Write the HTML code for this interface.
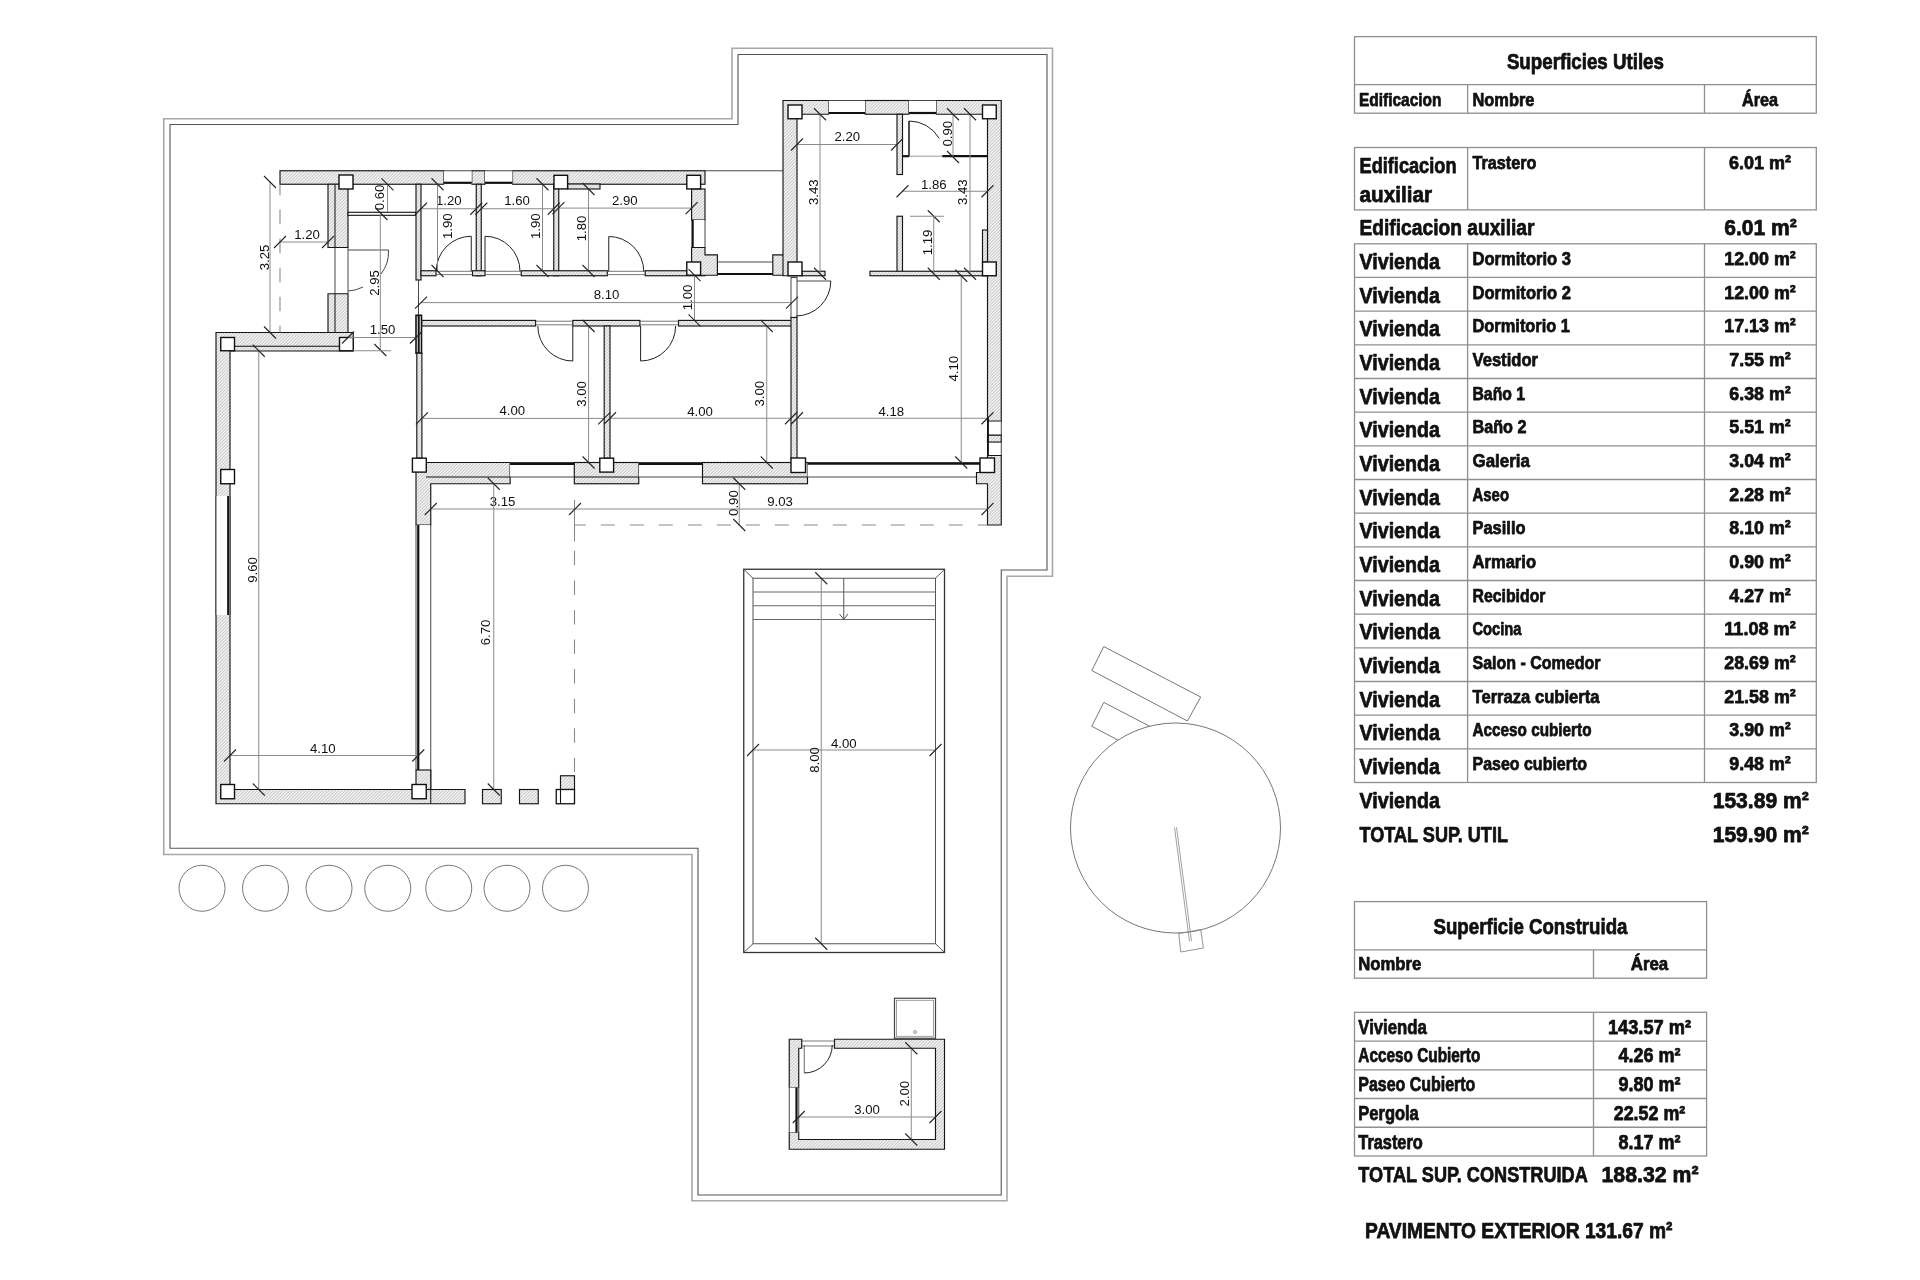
<!DOCTYPE html><html><head><meta charset="utf-8"><style>html,body{margin:0;padding:0;background:#fff;overflow:hidden}svg{display:block;will-change:transform}.d{font-family:"Liberation Sans",sans-serif;fill:#111}.t{font-family:"Liberation Sans",sans-serif;font-weight:bold;fill:#111;stroke:#111;stroke-width:0.75px;stroke-linejoin:round}</style></head><body>
<svg width="1920" height="1280" viewBox="0 0 1920 1280">
<defs><pattern id="h" patternUnits="userSpaceOnUse" width="2.3" height="2.3" patternTransform="rotate(45)"><rect width="2.3" height="2.3" fill="#f0f0f0"/><line x1="0" y1="0" x2="0" y2="2.3" stroke="#9a9a9a" stroke-width="0.75"/></pattern></defs>
<rect width="1920" height="1280" fill="#fff"/>
<path d="M163.75,118.75 H732 V48.25 H1052.5 V576.25 H1007 V1200.75 H692 V854.5 H163.75 Z" stroke="#a8a8a8" stroke-width="1.6" fill="none" />
<path d="M170,124.5 H738 V54.5 H1047 V570 H1001.25 V1195 H698 V848.25 H170 Z" stroke="#555" stroke-width="1.1" fill="none" />
<rect x="280.00" y="170.75" width="163.75" height="13.50" fill="url(#h)" stroke="#151515" stroke-width="1.15"/>
<rect x="471.75" y="170.75" width="13.25" height="13.50" fill="url(#h)" stroke="#151515" stroke-width="1.15"/>
<rect x="512.50" y="170.75" width="192.50" height="13.50" fill="url(#h)" stroke="#151515" stroke-width="1.15"/>
<rect x="443.75" y="170.75" width="28.00" height="13.55" fill="#fff" stroke="none"/>
<line x1="443.75" y1="170.75" x2="471.75" y2="170.75" stroke="#333" stroke-width="0.9" />
<line x1="443.75" y1="182.80" x2="471.75" y2="182.80" stroke="#111" stroke-width="2.2" />
<rect x="485.00" y="170.75" width="27.50" height="13.55" fill="#fff" stroke="none"/>
<line x1="485.00" y1="170.75" x2="512.50" y2="170.75" stroke="#333" stroke-width="0.9" />
<line x1="485.00" y1="182.80" x2="512.50" y2="182.80" stroke="#111" stroke-width="2.2" />
<polygon points="335.00,184.25 348.00,184.25 348.00,247.50 328.00,247.50 328.00,184.25" fill="url(#h)" stroke="#151515" stroke-width="1.15"/>
<polygon points="328.00,293.75 348.00,293.75 348.00,332.50 328.00,332.50" fill="url(#h)" stroke="#151515" stroke-width="1.15"/>
<line x1="335.00" y1="247.50" x2="335.00" y2="293.75" stroke="#333" stroke-width="0.9" />
<line x1="348.00" y1="247.50" x2="348.00" y2="293.75" stroke="#333" stroke-width="0.9" />
<path d="M348,250 H388.5 A36,36 0 0 1 381,274" stroke="#333" stroke-width="0.9" fill="none" />
<path d="M348,291 A36,36 0 0 0 363,287" stroke="#333" stroke-width="0.9" fill="none" />
<polygon points="216.00,332.50 353.25,332.50 353.25,351.00 230.00,351.00 230.00,789.50 465.00,789.50 465.00,803.75 216.00,803.75" fill="url(#h)" stroke="#151515" stroke-width="1.15"/>
<rect x="348.00" y="212.30" width="68.00" height="3.00" fill="#fff" stroke="#111" stroke-width="1.1"/>
<rect x="416.00" y="184.25" width="5.00" height="95.75" fill="url(#h)" stroke="#151515" stroke-width="1.15"/>
<line x1="418.50" y1="280.00" x2="418.50" y2="315.30" stroke="#333" stroke-width="0.9" />
<rect x="416.00" y="315.30" width="5.50" height="37.90" fill="#fff" stroke="#111" stroke-width="1.6"/>
<line x1="418.70" y1="315.30" x2="418.70" y2="353.20" stroke="#111" stroke-width="2" />
<rect x="416.80" y="353.20" width="5.10" height="105.00" fill="url(#h)" stroke="#151515" stroke-width="1.15"/>
<rect x="476.25" y="184.25" width="5.00" height="91.50" fill="url(#h)" stroke="#151515" stroke-width="1.15"/>
<rect x="553.75" y="184.25" width="5.00" height="91.50" fill="url(#h)" stroke="#151515" stroke-width="1.15"/>
<rect x="567.60" y="184.00" width="32.40" height="5.00" fill="url(#h)" stroke="#151515" stroke-width="1.15"/>
<rect x="421.00" y="270.75" width="15.00" height="5.00" fill="url(#h)" stroke="#151515" stroke-width="1.15"/>
<rect x="472.50" y="270.75" width="12.50" height="5.00" fill="url(#h)" stroke="#151515" stroke-width="1.15"/>
<rect x="521.25" y="270.75" width="86.05" height="5.00" fill="url(#h)" stroke="#151515" stroke-width="1.15"/>
<rect x="645.20" y="270.75" width="59.80" height="5.00" fill="url(#h)" stroke="#151515" stroke-width="1.15"/>
<line x1="436.00" y1="271.30" x2="472.50" y2="271.30" stroke="#555" stroke-width="0.8" />
<line x1="436.00" y1="274.60" x2="472.50" y2="274.60" stroke="#555" stroke-width="0.8" />
<line x1="485.00" y1="271.30" x2="521.25" y2="271.30" stroke="#555" stroke-width="0.8" />
<line x1="485.00" y1="274.60" x2="521.25" y2="274.60" stroke="#555" stroke-width="0.8" />
<line x1="607.30" y1="271.30" x2="645.20" y2="271.30" stroke="#555" stroke-width="0.8" />
<line x1="607.30" y1="274.60" x2="645.20" y2="274.60" stroke="#555" stroke-width="0.8" />
<line x1="471.25" y1="236.25" x2="471.25" y2="271.25" stroke="#222" stroke-width="1.0" />
<path d="M436.25,271.25 A35,35 0 0 1 471.25,236.25" stroke="#222" stroke-width="1.0" fill="none" />
<line x1="485.00" y1="236.25" x2="485.00" y2="271.25" stroke="#222" stroke-width="1.0" />
<path d="M485.00,236.25 A35,35 0 0 1 520.00,271.25" stroke="#222" stroke-width="1.0" fill="none" />
<line x1="608.75" y1="236.50" x2="608.75" y2="271.50" stroke="#222" stroke-width="1.0" />
<path d="M608.75,236.50 A35,35 0 0 1 643.75,271.50" stroke="#222" stroke-width="1.0" fill="none" />
<rect x="691.60" y="189.00" width="13.40" height="31.00" fill="url(#h)" stroke="#151515" stroke-width="1.15"/>
<rect x="692.60" y="220.00" width="12.40" height="27.50" fill="#fff" stroke="none"/>
<line x1="692.60" y1="220.00" x2="692.60" y2="247.50" stroke="#333" stroke-width="0.9" />
<line x1="692.60" y1="220.00" x2="692.60" y2="247.50" stroke="#111" stroke-width="2.2" />
<line x1="705.00" y1="220.00" x2="705.00" y2="247.50" stroke="#333" stroke-width="0.9" />
<polygon points="691.60,247.50 705.00,247.50 705.00,254.80 717.40,254.80 717.40,275.20 691.60,275.20" fill="url(#h)" stroke="#151515" stroke-width="1.15"/>
<line x1="705.00" y1="170.75" x2="783.00" y2="170.75" stroke="#333" stroke-width="0.9" />
<line x1="717.40" y1="262.00" x2="772.80" y2="262.00" stroke="#333" stroke-width="0.9" />
<line x1="717.40" y1="274.00" x2="772.80" y2="274.00" stroke="#111" stroke-width="2.2" />
<polygon points="772.80,254.80 783.80,254.80 783.80,275.20 772.80,275.20" fill="url(#h)" stroke="#151515" stroke-width="1.15"/>
<rect x="339.00" y="175.00" width="14.00" height="14.00" fill="#fff" stroke="#111" stroke-width="1.4"/>
<rect x="554.00" y="175.30" width="13.60" height="13.60" fill="#fff" stroke="#111" stroke-width="1.4"/>
<rect x="686.80" y="175.30" width="13.80" height="13.60" fill="#fff" stroke="#111" stroke-width="1.4"/>
<rect x="686.80" y="262.00" width="13.80" height="13.20" fill="#fff" stroke="#111" stroke-width="1.4"/>
<rect x="220.75" y="337.50" width="13.75" height="13.25" fill="#fff" stroke="#111" stroke-width="1.4"/>
<rect x="339.50" y="337.50" width="13.75" height="13.25" fill="#fff" stroke="#111" stroke-width="1.4"/>
<polygon points="783.00,100.50 828.75,100.50 828.75,114.25 797.00,114.25 797.00,275.75 783.00,275.75" fill="url(#h)" stroke="#151515" stroke-width="1.15"/>
<rect x="865.00" y="100.50" width="43.75" height="13.75" fill="url(#h)" stroke="#151515" stroke-width="1.15"/>
<polygon points="936.25,100.50 1001.25,100.50 1001.25,421.25 987.50,421.25 987.50,114.25 936.25,114.25" fill="url(#h)" stroke="#151515" stroke-width="1.15"/>
<rect x="828.75" y="100.50" width="36.25" height="14.00" fill="#fff" stroke="none"/>
<line x1="828.75" y1="100.50" x2="865.00" y2="100.50" stroke="#333" stroke-width="0.9" />
<line x1="828.75" y1="113.00" x2="865.00" y2="113.00" stroke="#111" stroke-width="2.2" />
<rect x="908.75" y="100.50" width="27.50" height="14.00" fill="#fff" stroke="none"/>
<line x1="908.75" y1="100.50" x2="936.25" y2="100.50" stroke="#333" stroke-width="0.9" />
<line x1="908.75" y1="113.00" x2="936.25" y2="113.00" stroke="#111" stroke-width="2.2" />
<rect x="987.50" y="421.10" width="13.75" height="14.10" fill="#fff" stroke="#333" stroke-width="0.9"/>
<rect x="987.50" y="435.20" width="13.75" height="7.00" fill="url(#h)" stroke="#151515" stroke-width="1.15"/>
<rect x="987.50" y="442.20" width="13.75" height="13.30" fill="#fff" stroke="#333" stroke-width="0.9"/>
<line x1="988.00" y1="418.00" x2="988.00" y2="456.00" stroke="#111" stroke-width="1.8" />
<rect x="897.00" y="114.25" width="5.50" height="60.25" fill="url(#h)" stroke="#151515" stroke-width="1.15"/>
<rect x="897.00" y="216.25" width="5.50" height="57.50" fill="url(#h)" stroke="#151515" stroke-width="1.15"/>
<line x1="902.50" y1="156.20" x2="909.00" y2="156.20" stroke="#111" stroke-width="2.2" />
<line x1="909.00" y1="156.20" x2="942.30" y2="156.20" stroke="#999" stroke-width="1.0" />
<line x1="942.30" y1="156.20" x2="987.50" y2="156.20" stroke="#111" stroke-width="2.2" />
<line x1="909.00" y1="121.00" x2="909.00" y2="156.20" stroke="#222" stroke-width="1.6" />
<path d="M909.00,121.00 A35,35 0 0 1 939.31,138.50" stroke="#222" stroke-width="1.0" fill="none" />
<rect x="802.00" y="271.25" width="23.00" height="4.50" fill="url(#h)" stroke="#151515" stroke-width="1.15"/>
<rect x="870.00" y="271.25" width="117.50" height="4.50" fill="url(#h)" stroke="#151515" stroke-width="1.15"/>
<rect x="982.50" y="230.00" width="5.00" height="32.00" fill="url(#h)" stroke="#151515" stroke-width="1.15"/>
<rect x="788.00" y="105.00" width="14.00" height="13.75" fill="#fff" stroke="#111" stroke-width="1.4"/>
<rect x="982.50" y="105.00" width="13.75" height="13.75" fill="#fff" stroke="#111" stroke-width="1.4"/>
<rect x="788.00" y="262.00" width="14.00" height="13.75" fill="#fff" stroke="#111" stroke-width="1.4"/>
<rect x="982.50" y="262.00" width="13.75" height="13.75" fill="#fff" stroke="#111" stroke-width="1.4"/>
<rect x="791.00" y="277.50" width="6.00" height="40.00" fill="#fff" stroke="#333" stroke-width="0.9"/>
<path d="M830.80,281.00 A35,35 0 0 1 795.80,316.00" stroke="#222" stroke-width="1.0" fill="none" />
<line x1="797.00" y1="281.00" x2="831.00" y2="281.00" stroke="#333" stroke-width="0.9" />
<rect x="421.90" y="320.40" width="113.70" height="5.60" fill="url(#h)" stroke="#151515" stroke-width="1.15"/>
<rect x="572.80" y="320.40" width="67.10" height="5.60" fill="url(#h)" stroke="#151515" stroke-width="1.15"/>
<rect x="678.50" y="320.40" width="113.50" height="5.60" fill="url(#h)" stroke="#151515" stroke-width="1.15"/>
<line x1="535.60" y1="321.20" x2="572.80" y2="321.20" stroke="#555" stroke-width="0.8" />
<line x1="535.60" y1="324.80" x2="572.80" y2="324.80" stroke="#555" stroke-width="0.8" />
<line x1="639.90" y1="321.20" x2="678.50" y2="321.20" stroke="#555" stroke-width="0.8" />
<line x1="639.90" y1="324.80" x2="678.50" y2="324.80" stroke="#555" stroke-width="0.8" />
<line x1="572.80" y1="326.00" x2="572.80" y2="361.00" stroke="#222" stroke-width="1.0" />
<path d="M572.80,361.00 A35,35 0 0 1 537.80,326.00" stroke="#222" stroke-width="1.0" fill="none" />
<line x1="640.60" y1="326.00" x2="640.60" y2="361.00" stroke="#222" stroke-width="1.0" />
<path d="M675.60,326.00 A35,35 0 0 1 640.60,361.00" stroke="#222" stroke-width="1.0" fill="none" />
<rect x="604.20" y="326.00" width="5.80" height="132.20" fill="url(#h)" stroke="#151515" stroke-width="1.15"/>
<rect x="791.00" y="317.50" width="6.00" height="141.25" fill="url(#h)" stroke="#151515" stroke-width="1.15"/>
<polygon points="416.00,462.50 510.10,462.50 510.10,483.75 430.75,483.75 430.75,525.00 416.00,525.00" fill="url(#h)" stroke="#151515" stroke-width="1.15"/>
<rect x="510.10" y="462.50" width="64.20" height="14.50" fill="#fff" stroke="none"/>
<line x1="510.10" y1="462.50" x2="574.30" y2="462.50" stroke="#333" stroke-width="0.9" />
<line x1="510.10" y1="463.90" x2="574.30" y2="463.90" stroke="#111" stroke-width="2.2" />
<line x1="510.10" y1="477.00" x2="574.30" y2="477.00" stroke="#333" stroke-width="0.9" />
<rect x="574.30" y="462.50" width="64.45" height="21.25" fill="url(#h)" stroke="#151515" stroke-width="1.15"/>
<line x1="574.30" y1="477.00" x2="638.75" y2="477.00" stroke="#111" stroke-width="1" />
<rect x="638.75" y="462.50" width="63.75" height="14.50" fill="#fff" stroke="none"/>
<line x1="638.75" y1="462.50" x2="702.50" y2="462.50" stroke="#333" stroke-width="0.9" />
<line x1="638.75" y1="463.90" x2="702.50" y2="463.90" stroke="#111" stroke-width="2.2" />
<line x1="638.75" y1="477.00" x2="702.50" y2="477.00" stroke="#333" stroke-width="0.9" />
<rect x="702.50" y="462.50" width="105.00" height="21.25" fill="url(#h)" stroke="#151515" stroke-width="1.15"/>
<line x1="702.50" y1="477.00" x2="807.50" y2="477.00" stroke="#111" stroke-width="1" />
<rect x="807.50" y="462.50" width="172.50" height="14.50" fill="#fff" stroke="none"/>
<line x1="807.50" y1="462.50" x2="980.00" y2="462.50" stroke="#333" stroke-width="0.9" />
<line x1="807.50" y1="463.75" x2="980.00" y2="463.75" stroke="#111" stroke-width="2.2" />
<line x1="807.50" y1="477.00" x2="980.00" y2="477.00" stroke="#333" stroke-width="0.9" />
<polygon points="987.50,455.50 1001.25,455.50 1001.25,525.00 987.50,525.00 987.50,483.75 976.50,483.75 976.50,472.50 980.00,472.50 980.00,462.50 987.50,462.50" fill="url(#h)" stroke="#151515" stroke-width="1.15"/>
<line x1="426.00" y1="477.00" x2="510.10" y2="477.00" stroke="#111" stroke-width="1" />
<rect x="412.40" y="458.20" width="13.90" height="13.90" fill="#fff" stroke="#111" stroke-width="1.4"/>
<rect x="599.80" y="458.20" width="13.80" height="13.90" fill="#fff" stroke="#111" stroke-width="1.4"/>
<rect x="791.00" y="458.00" width="14.50" height="14.50" fill="#fff" stroke="#111" stroke-width="1.4"/>
<rect x="980.00" y="458.00" width="14.50" height="14.50" fill="#fff" stroke="#111" stroke-width="1.4"/>
<rect x="216.00" y="496.00" width="14.00" height="119.00" fill="#fff" stroke="none"/>
<line x1="216.00" y1="496.00" x2="216.00" y2="615.00" stroke="#333" stroke-width="0.9" />
<line x1="228.25" y1="496.00" x2="228.25" y2="615.00" stroke="#111" stroke-width="2.2" />
<line x1="230.00" y1="496.00" x2="230.00" y2="615.00" stroke="#333" stroke-width="0.9" />
<rect x="416.00" y="525.00" width="14.75" height="245.00" fill="#fff" stroke="none"/>
<line x1="416.00" y1="525.00" x2="416.00" y2="770.00" stroke="#333" stroke-width="0.9" />
<line x1="418.25" y1="525.00" x2="418.25" y2="770.00" stroke="#111" stroke-width="2.2" />
<line x1="430.75" y1="525.00" x2="430.75" y2="770.00" stroke="#333" stroke-width="0.9" />
<line x1="430.75" y1="770.00" x2="430.75" y2="803.75" stroke="#111" stroke-width="1" />
<rect x="416.00" y="770.00" width="14.75" height="19.50" fill="url(#h)" stroke="#151515" stroke-width="1.15"/>
<rect x="220.75" y="469.50" width="13.75" height="14.25" fill="#fff" stroke="#111" stroke-width="1.4"/>
<rect x="220.75" y="784.50" width="13.75" height="14.25" fill="#fff" stroke="#111" stroke-width="1.4"/>
<rect x="412.00" y="784.50" width="14.25" height="14.25" fill="#fff" stroke="#111" stroke-width="1.4"/>
<rect x="482.50" y="789.50" width="18.75" height="14.25" fill="url(#h)" stroke="#151515" stroke-width="1.15"/>
<rect x="519.50" y="789.50" width="18.75" height="14.25" fill="url(#h)" stroke="#151515" stroke-width="1.15"/>
<rect x="560.50" y="775.75" width="14.00" height="13.75" fill="url(#h)" stroke="#151515" stroke-width="1.15"/>
<rect x="556.25" y="789.50" width="18.25" height="14.25" fill="#fff" stroke="#111" stroke-width="1.3"/>
<line x1="560.50" y1="789.50" x2="560.50" y2="803.75" stroke="#111" stroke-width="1.1" />
<line x1="280.00" y1="184.60" x2="280.00" y2="332.50" stroke="#8a8a8a" stroke-width="1.1" stroke-dasharray="14.5,14.5" stroke-dashoffset="3.9"/>
<line x1="575.00" y1="525.00" x2="987.50" y2="525.00" stroke="#8a8a8a" stroke-width="1.1" stroke-dasharray="14,15" stroke-dashoffset="3.2"/>
<line x1="574.50" y1="525.00" x2="574.50" y2="775.75" stroke="#8a8a8a" stroke-width="1.1" stroke-dasharray="14.5,15.06" stroke-dashoffset="3.7"/>
<line x1="574.50" y1="500.00" x2="574.50" y2="541.50" stroke="#8a8a8a" stroke-width="1" />
<rect x="743.75" y="569.25" width="200.75" height="383.25" fill="none" stroke="#333" stroke-width="1.3"/>
<rect x="753.00" y="578.25" width="182.50" height="365.50" fill="none" stroke="#555" stroke-width="1"/>
<line x1="743.75" y1="569.25" x2="753.00" y2="578.25" stroke="#555" stroke-width="1" />
<line x1="944.50" y1="569.25" x2="935.50" y2="578.25" stroke="#555" stroke-width="1" />
<line x1="743.75" y1="952.50" x2="753.00" y2="943.75" stroke="#555" stroke-width="1" />
<line x1="944.50" y1="952.50" x2="935.50" y2="943.75" stroke="#555" stroke-width="1" />
<line x1="753.00" y1="592.00" x2="935.50" y2="592.00" stroke="#666" stroke-width="1" />
<line x1="753.00" y1="605.75" x2="935.50" y2="605.75" stroke="#666" stroke-width="1" />
<line x1="753.00" y1="619.50" x2="935.50" y2="619.50" stroke="#666" stroke-width="1" />
<line x1="843.75" y1="578.25" x2="843.75" y2="619.00" stroke="#555" stroke-width="1" />
<path d="M839.5,614 L843.75,619.5 L848,614" stroke="#555" stroke-width="1" fill="none" />
<polygon points="789.25,1039.25 801.75,1039.25 801.75,1048.25 798.75,1048.25 798.75,1087.50 789.25,1087.50" fill="url(#h)" stroke="#151515" stroke-width="1.15"/>
<polygon points="834.50,1039.25 944.50,1039.25 944.50,1149.25 789.25,1149.25 789.25,1132.50 798.75,1132.50 798.75,1139.50 935.50,1139.50 935.50,1048.25 834.50,1048.25" fill="url(#h)" stroke="#151515" stroke-width="1.15"/>
<rect x="789.25" y="1087.50" width="9.50" height="45.00" fill="#fff" stroke="none"/>
<line x1="789.25" y1="1087.50" x2="789.25" y2="1132.50" stroke="#333" stroke-width="0.9" />
<line x1="796.50" y1="1087.50" x2="796.50" y2="1132.50" stroke="#111" stroke-width="2.2" />
<line x1="798.75" y1="1087.50" x2="798.75" y2="1132.50" stroke="#333" stroke-width="0.9" />
<line x1="801.75" y1="1041.00" x2="834.50" y2="1041.00" stroke="#555" stroke-width="0.8" />
<line x1="801.75" y1="1046.00" x2="834.50" y2="1046.00" stroke="#555" stroke-width="0.8" />
<line x1="804.25" y1="1045.00" x2="804.25" y2="1073.00" stroke="#555" stroke-width="0.9" />
<path d="M832.25,1045.00 A28,28 0 0 1 804.25,1073.00" stroke="#222" stroke-width="1.0" fill="none" />
<rect x="894.50" y="998.25" width="41.00" height="40.00" fill="none" stroke="#444" stroke-width="1.2"/>
<rect x="896.50" y="1000.25" width="37.00" height="36.00" fill="none" stroke="#777" stroke-width="0.7"/>
<circle cx="915" cy="1032" r="1.5" fill="none" stroke="#666" stroke-width="0.7"/>
<circle cx="202" cy="888.25" r="23" fill="none" stroke="#777" stroke-width="1"/>
<circle cx="265.5" cy="888.25" r="23" fill="none" stroke="#777" stroke-width="1"/>
<circle cx="329" cy="888.25" r="23" fill="none" stroke="#777" stroke-width="1"/>
<circle cx="387.75" cy="888.25" r="23" fill="none" stroke="#777" stroke-width="1"/>
<circle cx="448.75" cy="888.25" r="23" fill="none" stroke="#777" stroke-width="1"/>
<circle cx="507" cy="888.25" r="23" fill="none" stroke="#777" stroke-width="1"/>
<circle cx="565.5" cy="888.25" r="23" fill="none" stroke="#777" stroke-width="1"/>
<defs><clipPath id="oc"><path d="M1000,600 H1320 V960 H1000 Z M1175.5,828 m-105,0 a105,105 0 1,0 210,0 a105,105 0 1,0 -210,0" clip-rule="evenodd"/></clipPath></defs>
<polygon points="1103.80,646.60 1200.70,697.00 1187.40,721.00 1091.80,670.50" fill="none" stroke="#777" stroke-width="1"/>
<g clip-path="url(#oc)">
<polygon points="1103.80,702.40 1200.70,752.80 1187.40,776.70 1091.80,726.30" fill="none" stroke="#777" stroke-width="1"/>
</g>
<circle cx="1175.5" cy="828" r="105" fill="none" stroke="#777" stroke-width="1"/>
<path d="M1174.5,827.5 L1189.5,941.5 M1176.5,827.2 L1191.5,941" stroke="#888" stroke-width="0.8" fill="none" />
<polygon points="1178.70,933.50 1200.70,929.50 1203.40,948.00 1180.80,952.00" fill="none" stroke="#888" stroke-width="0.9"/>
<line x1="270.00" y1="182.00" x2="270.00" y2="332.50" stroke="#8a8a8a" stroke-width="1" />
<line x1="264.00" y1="176.00" x2="276.00" y2="188.00" stroke="#222" stroke-width="1.1" />
<line x1="264.00" y1="326.50" x2="276.00" y2="338.50" stroke="#222" stroke-width="1.1" />
<text transform="translate(263.75,257.50) rotate(-90)" x="0" y="4.75" class="d" text-anchor="middle" font-size="13.2">3.25</text>
<line x1="280.00" y1="242.00" x2="328.00" y2="242.00" stroke="#8a8a8a" stroke-width="1" />
<line x1="274.00" y1="248.00" x2="286.00" y2="236.00" stroke="#222" stroke-width="1.1" />
<line x1="322.00" y1="248.00" x2="334.00" y2="236.00" stroke="#222" stroke-width="1.1" />
<text x="307.00" y="238.75" class="d" text-anchor="middle" font-size="13.2">1.20</text>
<line x1="387.50" y1="184.30" x2="387.50" y2="212.00" stroke="#8a8a8a" stroke-width="1" />
<line x1="381.50" y1="178.30" x2="393.50" y2="190.30" stroke="#222" stroke-width="1.1" />
<text transform="translate(379.50,197.50) rotate(-90)" x="0" y="4.75" class="d" text-anchor="middle" font-size="13.2">0.60</text>
<line x1="380.30" y1="214.00" x2="380.30" y2="350.75" stroke="#8a8a8a" stroke-width="1" />
<line x1="375.50" y1="208.00" x2="387.50" y2="220.00" stroke="#222" stroke-width="1.1" />
<line x1="374.30" y1="344.00" x2="386.30" y2="356.00" stroke="#222" stroke-width="1.1" />
<text transform="translate(373.75,283.00) rotate(-90)" x="0" y="4.75" class="d" text-anchor="middle" font-size="13.2">2.95</text>
<line x1="348.00" y1="337.50" x2="416.00" y2="337.50" stroke="#8a8a8a" stroke-width="1" />
<line x1="342.00" y1="343.50" x2="354.00" y2="331.50" stroke="#222" stroke-width="1.1" />
<line x1="410.00" y1="343.50" x2="422.00" y2="331.50" stroke="#222" stroke-width="1.1" />
<text x="382.50" y="334.25" class="d" text-anchor="middle" font-size="13.2">1.50</text>
<line x1="353.00" y1="350.75" x2="391.00" y2="350.75" stroke="#8a8a8a" stroke-width="1" />
<line x1="421.00" y1="208.75" x2="476.25" y2="208.75" stroke="#8a8a8a" stroke-width="1" />
<line x1="415.00" y1="214.75" x2="427.00" y2="202.75" stroke="#222" stroke-width="1.1" />
<line x1="470.25" y1="214.75" x2="482.25" y2="202.75" stroke="#222" stroke-width="1.1" />
<text x="448.75" y="205.00" class="d" text-anchor="middle" font-size="13.2">1.20</text>
<line x1="437.50" y1="184.25" x2="437.50" y2="271.00" stroke="#8a8a8a" stroke-width="1" />
<line x1="431.50" y1="178.25" x2="443.50" y2="190.25" stroke="#222" stroke-width="1.1" />
<line x1="431.50" y1="265.00" x2="443.50" y2="277.00" stroke="#222" stroke-width="1.1" />
<text transform="translate(447.00,226.25) rotate(-90)" x="0" y="4.75" class="d" text-anchor="middle" font-size="13.2">1.90</text>
<line x1="481.25" y1="208.75" x2="553.75" y2="208.75" stroke="#8a8a8a" stroke-width="1" />
<line x1="475.25" y1="214.75" x2="487.25" y2="202.75" stroke="#222" stroke-width="1.1" />
<line x1="547.75" y1="214.75" x2="559.75" y2="202.75" stroke="#222" stroke-width="1.1" />
<text x="517.00" y="205.00" class="d" text-anchor="middle" font-size="13.2">1.60</text>
<line x1="542.50" y1="184.25" x2="542.50" y2="271.00" stroke="#8a8a8a" stroke-width="1" />
<line x1="536.50" y1="178.25" x2="548.50" y2="190.25" stroke="#222" stroke-width="1.1" />
<line x1="536.50" y1="265.00" x2="548.50" y2="277.00" stroke="#222" stroke-width="1.1" />
<text transform="translate(535.00,226.25) rotate(-90)" x="0" y="4.75" class="d" text-anchor="middle" font-size="13.2">1.90</text>
<line x1="588.50" y1="189.00" x2="588.50" y2="271.00" stroke="#8a8a8a" stroke-width="1" />
<line x1="582.50" y1="183.00" x2="594.50" y2="195.00" stroke="#222" stroke-width="1.1" />
<line x1="582.50" y1="265.00" x2="594.50" y2="277.00" stroke="#222" stroke-width="1.1" />
<text transform="translate(581.40,228.50) rotate(-90)" x="0" y="4.75" class="d" text-anchor="middle" font-size="13.2">1.80</text>
<line x1="558.40" y1="208.10" x2="691.60" y2="208.10" stroke="#8a8a8a" stroke-width="1" />
<line x1="552.40" y1="214.10" x2="564.40" y2="202.10" stroke="#222" stroke-width="1.1" />
<line x1="685.60" y1="214.10" x2="697.60" y2="202.10" stroke="#222" stroke-width="1.1" />
<text x="624.80" y="204.90" class="d" text-anchor="middle" font-size="13.2">2.90</text>
<line x1="421.00" y1="302.60" x2="792.00" y2="302.60" stroke="#8a8a8a" stroke-width="1" />
<line x1="415.00" y1="308.60" x2="427.00" y2="296.60" stroke="#222" stroke-width="1.1" />
<line x1="786.00" y1="308.60" x2="798.00" y2="296.60" stroke="#222" stroke-width="1.1" />
<text x="606.60" y="299.30" class="d" text-anchor="middle" font-size="13.2">8.10</text>
<line x1="694.50" y1="275.20" x2="694.50" y2="320.40" stroke="#8a8a8a" stroke-width="1" />
<line x1="688.50" y1="269.20" x2="700.50" y2="281.20" stroke="#222" stroke-width="1.1" />
<line x1="688.50" y1="314.40" x2="700.50" y2="326.40" stroke="#222" stroke-width="1.1" />
<text transform="translate(686.80,297.50) rotate(-90)" x="0" y="4.75" class="d" text-anchor="middle" font-size="13.2">1.00</text>
<line x1="797.00" y1="144.50" x2="897.00" y2="144.50" stroke="#8a8a8a" stroke-width="1" />
<line x1="791.00" y1="150.50" x2="803.00" y2="138.50" stroke="#222" stroke-width="1.1" />
<line x1="891.00" y1="150.50" x2="903.00" y2="138.50" stroke="#222" stroke-width="1.1" />
<text x="847.25" y="141.25" class="d" text-anchor="middle" font-size="13.2">2.20</text>
<line x1="820.00" y1="114.25" x2="820.00" y2="273.75" stroke="#8a8a8a" stroke-width="1" />
<line x1="814.00" y1="108.25" x2="826.00" y2="120.25" stroke="#222" stroke-width="1.1" />
<line x1="814.00" y1="267.75" x2="826.00" y2="279.75" stroke="#222" stroke-width="1.1" />
<text transform="translate(813.00,192.25) rotate(-90)" x="0" y="4.75" class="d" text-anchor="middle" font-size="13.2">3.43</text>
<line x1="953.00" y1="114.25" x2="953.00" y2="157.00" stroke="#8a8a8a" stroke-width="1" />
<line x1="947.00" y1="108.25" x2="959.00" y2="120.25" stroke="#222" stroke-width="1.1" />
<line x1="947.00" y1="151.00" x2="959.00" y2="163.00" stroke="#222" stroke-width="1.1" />
<text transform="translate(947.50,133.75) rotate(-90)" x="0" y="4.75" class="d" text-anchor="middle" font-size="13.2">0.90</text>
<line x1="902.50" y1="191.25" x2="987.50" y2="191.25" stroke="#8a8a8a" stroke-width="1" />
<line x1="896.50" y1="197.25" x2="908.50" y2="185.25" stroke="#222" stroke-width="1.1" />
<line x1="981.50" y1="197.25" x2="993.50" y2="185.25" stroke="#222" stroke-width="1.1" />
<text x="933.75" y="188.75" class="d" text-anchor="middle" font-size="13.2">1.86</text>
<line x1="970.00" y1="114.25" x2="970.00" y2="273.75" stroke="#8a8a8a" stroke-width="1" />
<line x1="964.00" y1="108.25" x2="976.00" y2="120.25" stroke="#222" stroke-width="1.1" />
<line x1="964.00" y1="267.75" x2="976.00" y2="279.75" stroke="#222" stroke-width="1.1" />
<text transform="translate(962.50,192.25) rotate(-90)" x="0" y="4.75" class="d" text-anchor="middle" font-size="13.2">3.43</text>
<line x1="933.75" y1="216.25" x2="933.75" y2="273.75" stroke="#8a8a8a" stroke-width="1" />
<line x1="927.75" y1="210.25" x2="939.75" y2="222.25" stroke="#222" stroke-width="1.1" />
<line x1="927.75" y1="267.75" x2="939.75" y2="279.75" stroke="#222" stroke-width="1.1" />
<line x1="910.00" y1="216.25" x2="944.00" y2="216.25" stroke="#8a8a8a" stroke-width="1" />
<text transform="translate(927.50,242.50) rotate(-90)" x="0" y="4.75" class="d" text-anchor="middle" font-size="13.2">1.19</text>
<line x1="421.90" y1="418.40" x2="604.20" y2="418.40" stroke="#8a8a8a" stroke-width="1" />
<line x1="415.90" y1="424.40" x2="427.90" y2="412.40" stroke="#222" stroke-width="1.1" />
<line x1="598.20" y1="424.40" x2="610.20" y2="412.40" stroke="#222" stroke-width="1.1" />
<text x="512.30" y="415.40" class="d" text-anchor="middle" font-size="13.2">4.00</text>
<line x1="588.60" y1="326.00" x2="588.60" y2="462.50" stroke="#8a8a8a" stroke-width="1" />
<line x1="582.60" y1="320.00" x2="594.60" y2="332.00" stroke="#222" stroke-width="1.1" />
<line x1="582.60" y1="456.50" x2="594.60" y2="468.50" stroke="#222" stroke-width="1.1" />
<text transform="translate(580.80,394.00) rotate(-90)" x="0" y="4.75" class="d" text-anchor="middle" font-size="13.2">3.00</text>
<line x1="610.00" y1="418.25" x2="791.00" y2="418.25" stroke="#8a8a8a" stroke-width="1" />
<line x1="604.00" y1="424.25" x2="616.00" y2="412.25" stroke="#222" stroke-width="1.1" />
<line x1="785.00" y1="424.25" x2="797.00" y2="412.25" stroke="#222" stroke-width="1.1" />
<text x="700.00" y="415.50" class="d" text-anchor="middle" font-size="13.2">4.00</text>
<line x1="766.75" y1="326.00" x2="766.75" y2="462.50" stroke="#8a8a8a" stroke-width="1" />
<line x1="760.75" y1="320.00" x2="772.75" y2="332.00" stroke="#222" stroke-width="1.1" />
<line x1="760.75" y1="456.50" x2="772.75" y2="468.50" stroke="#222" stroke-width="1.1" />
<text transform="translate(759.40,393.75) rotate(-90)" x="0" y="4.75" class="d" text-anchor="middle" font-size="13.2">3.00</text>
<line x1="797.00" y1="418.25" x2="987.50" y2="418.25" stroke="#8a8a8a" stroke-width="1" />
<line x1="791.00" y1="424.25" x2="803.00" y2="412.25" stroke="#222" stroke-width="1.1" />
<line x1="981.50" y1="424.25" x2="993.50" y2="412.25" stroke="#222" stroke-width="1.1" />
<text x="891.25" y="415.50" class="d" text-anchor="middle" font-size="13.2">4.18</text>
<line x1="961.25" y1="275.75" x2="961.25" y2="462.50" stroke="#8a8a8a" stroke-width="1" />
<line x1="955.25" y1="269.75" x2="967.25" y2="281.75" stroke="#222" stroke-width="1.1" />
<line x1="955.25" y1="456.50" x2="967.25" y2="468.50" stroke="#222" stroke-width="1.1" />
<text transform="translate(953.10,368.75) rotate(-90)" x="0" y="4.75" class="d" text-anchor="middle" font-size="13.2">4.10</text>
<line x1="430.75" y1="509.00" x2="987.50" y2="509.00" stroke="#8a8a8a" stroke-width="1" />
<line x1="424.75" y1="515.00" x2="436.75" y2="503.00" stroke="#222" stroke-width="1.1" />
<line x1="981.50" y1="515.00" x2="993.50" y2="503.00" stroke="#222" stroke-width="1.1" />
<line x1="569.00" y1="515.00" x2="581.00" y2="503.00" stroke="#222" stroke-width="1.1" />
<text x="502.50" y="506.25" class="d" text-anchor="middle" font-size="13.2">3.15</text>
<text x="780.00" y="506.25" class="d" text-anchor="middle" font-size="13.2">9.03</text>
<line x1="739.25" y1="483.75" x2="739.25" y2="525.00" stroke="#8a8a8a" stroke-width="1" />
<line x1="733.25" y1="477.75" x2="745.25" y2="489.75" stroke="#222" stroke-width="1.1" />
<line x1="733.25" y1="519.00" x2="745.25" y2="531.00" stroke="#222" stroke-width="1.1" />
<text transform="translate(733.10,503.10) rotate(-90)" x="0" y="4.75" class="d" text-anchor="middle" font-size="13.2">0.90</text>
<line x1="258.75" y1="350.75" x2="258.75" y2="789.50" stroke="#8a8a8a" stroke-width="1" />
<line x1="252.75" y1="344.75" x2="264.75" y2="356.75" stroke="#222" stroke-width="1.1" />
<line x1="252.75" y1="783.50" x2="264.75" y2="795.50" stroke="#222" stroke-width="1.1" />
<text transform="translate(251.90,570.00) rotate(-90)" x="0" y="4.75" class="d" text-anchor="middle" font-size="13.2">9.60</text>
<line x1="493.75" y1="483.75" x2="493.75" y2="789.50" stroke="#8a8a8a" stroke-width="1" />
<line x1="487.75" y1="477.75" x2="499.75" y2="489.75" stroke="#222" stroke-width="1.1" />
<line x1="487.75" y1="783.50" x2="499.75" y2="795.50" stroke="#222" stroke-width="1.1" />
<text transform="translate(485.50,632.50) rotate(-90)" x="0" y="4.75" class="d" text-anchor="middle" font-size="13.2">6.70</text>
<line x1="230.00" y1="755.50" x2="418.25" y2="755.50" stroke="#8a8a8a" stroke-width="1" />
<line x1="224.00" y1="761.50" x2="236.00" y2="749.50" stroke="#222" stroke-width="1.1" />
<line x1="412.25" y1="761.50" x2="424.25" y2="749.50" stroke="#222" stroke-width="1.1" />
<text x="322.75" y="753.00" class="d" text-anchor="middle" font-size="13.2">4.10</text>
<line x1="753.00" y1="750.00" x2="935.50" y2="750.00" stroke="#8a8a8a" stroke-width="1" />
<line x1="747.00" y1="756.00" x2="759.00" y2="744.00" stroke="#222" stroke-width="1.1" />
<line x1="929.50" y1="756.00" x2="941.50" y2="744.00" stroke="#222" stroke-width="1.1" />
<text x="843.75" y="747.50" class="d" text-anchor="middle" font-size="13.2">4.00</text>
<line x1="821.25" y1="578.25" x2="821.25" y2="943.75" stroke="#8a8a8a" stroke-width="1" />
<line x1="815.25" y1="572.25" x2="827.25" y2="584.25" stroke="#222" stroke-width="1.1" />
<line x1="815.25" y1="937.75" x2="827.25" y2="949.75" stroke="#222" stroke-width="1.1" />
<text transform="translate(813.75,760.00) rotate(-90)" x="0" y="4.75" class="d" text-anchor="middle" font-size="13.2">8.00</text>
<line x1="798.75" y1="1117.00" x2="935.50" y2="1117.00" stroke="#8a8a8a" stroke-width="1" />
<line x1="792.75" y1="1123.00" x2="804.75" y2="1111.00" stroke="#222" stroke-width="1.1" />
<line x1="929.50" y1="1123.00" x2="941.50" y2="1111.00" stroke="#222" stroke-width="1.1" />
<text x="867.00" y="1113.75" class="d" text-anchor="middle" font-size="13.2">3.00</text>
<line x1="911.25" y1="1048.25" x2="911.25" y2="1139.50" stroke="#8a8a8a" stroke-width="1" />
<line x1="905.25" y1="1042.25" x2="917.25" y2="1054.25" stroke="#222" stroke-width="1.1" />
<line x1="905.25" y1="1133.50" x2="917.25" y2="1145.50" stroke="#222" stroke-width="1.1" />
<text transform="translate(904.10,1093.75) rotate(-90)" x="0" y="4.75" class="d" text-anchor="middle" font-size="13.2">2.00</text>
<line x1="234.50" y1="346.25" x2="339.50" y2="346.25" stroke="#111" stroke-width="1.1" />
<line x1="335.00" y1="184.25" x2="335.00" y2="247.50" stroke="#111" stroke-width="1.0" />
<line x1="335.00" y1="293.75" x2="335.00" y2="332.50" stroke="#111" stroke-width="1.0" />
<rect x="1354.50" y="36.60" width="461.80" height="76.60" fill="none" stroke="#8f8f8f" stroke-width="1.3"/>
<line x1="1354.50" y1="84.60" x2="1816.30" y2="84.60" stroke="#8f8f8f" stroke-width="1.3" />
<line x1="1467.60" y1="84.60" x2="1467.60" y2="113.20" stroke="#8f8f8f" stroke-width="1.3" />
<line x1="1704.50" y1="84.60" x2="1704.50" y2="113.20" stroke="#8f8f8f" stroke-width="1.3" />
<text x="1585.40" y="69.00" class="t" font-size="21.7" text-anchor="middle" textLength="157.00" lengthAdjust="spacingAndGlyphs">Superficies Utiles</text>
<text x="1359.00" y="106.00" class="t" font-size="19" text-anchor="start" textLength="82.50" lengthAdjust="spacingAndGlyphs">Edificacion</text>
<text x="1472.50" y="106.00" class="t" font-size="19" text-anchor="start" textLength="62.00" lengthAdjust="spacingAndGlyphs">Nombre</text>
<text x="1760.00" y="106.00" class="t" font-size="19" text-anchor="middle" textLength="36.00" lengthAdjust="spacingAndGlyphs">Área</text>
<rect x="1354.50" y="147.50" width="461.80" height="62.40" fill="none" stroke="#8f8f8f" stroke-width="1.3"/>
<line x1="1467.60" y1="147.50" x2="1467.60" y2="209.90" stroke="#8f8f8f" stroke-width="1.3" />
<line x1="1704.50" y1="147.50" x2="1704.50" y2="209.90" stroke="#8f8f8f" stroke-width="1.3" />
<text x="1359.50" y="173.10" class="t" font-size="22.6" text-anchor="start" textLength="97.00" lengthAdjust="spacingAndGlyphs">Edificacion</text>
<text x="1359.50" y="202.30" class="t" font-size="22.6" text-anchor="start" textLength="72.50" lengthAdjust="spacingAndGlyphs">auxiliar</text>
<text x="1472.50" y="168.90" class="t" font-size="18.9" text-anchor="start" textLength="64.00" lengthAdjust="spacingAndGlyphs">Trastero</text>
<text x="1760.00" y="168.75" class="t" font-size="18.9" text-anchor="middle" textLength="62.00" lengthAdjust="spacingAndGlyphs">6.01 m²</text>
<text x="1359.50" y="234.80" class="t" font-size="22.6" text-anchor="start" textLength="175.00" lengthAdjust="spacingAndGlyphs">Edificacion auxiliar</text>
<text x="1760.50" y="234.80" class="t" font-size="22" text-anchor="middle" textLength="72.50" lengthAdjust="spacingAndGlyphs">6.01 m²</text>
<rect x="1354.50" y="243.80" width="461.80" height="538.70" fill="none" stroke="#8f8f8f" stroke-width="1.3"/>
<line x1="1467.60" y1="243.80" x2="1467.60" y2="782.50" stroke="#8f8f8f" stroke-width="1.3" />
<line x1="1704.50" y1="243.80" x2="1704.50" y2="782.50" stroke="#8f8f8f" stroke-width="1.3" />
<text x="1359.50" y="269.10" class="t" font-size="22.6" text-anchor="start" textLength="80.50" lengthAdjust="spacingAndGlyphs">Vivienda</text>
<text x="1472.50" y="265.10" class="t" font-size="18.9" text-anchor="start" textLength="98.50" lengthAdjust="spacingAndGlyphs">Dormitorio 3</text>
<text x="1760.00" y="265.10" class="t" font-size="18.9" text-anchor="middle" textLength="71.50" lengthAdjust="spacingAndGlyphs">12.00 m²</text>
<line x1="1354.50" y1="277.47" x2="1816.30" y2="277.47" stroke="#8f8f8f" stroke-width="1.3" />
<text x="1359.50" y="302.77" class="t" font-size="22.6" text-anchor="start" textLength="80.50" lengthAdjust="spacingAndGlyphs">Vivienda</text>
<text x="1472.50" y="298.77" class="t" font-size="18.9" text-anchor="start" textLength="98.50" lengthAdjust="spacingAndGlyphs">Dormitorio 2</text>
<text x="1760.00" y="298.77" class="t" font-size="18.9" text-anchor="middle" textLength="71.50" lengthAdjust="spacingAndGlyphs">12.00 m²</text>
<line x1="1354.50" y1="311.14" x2="1816.30" y2="311.14" stroke="#8f8f8f" stroke-width="1.3" />
<text x="1359.50" y="336.44" class="t" font-size="22.6" text-anchor="start" textLength="80.50" lengthAdjust="spacingAndGlyphs">Vivienda</text>
<text x="1472.50" y="332.44" class="t" font-size="18.9" text-anchor="start" textLength="97.50" lengthAdjust="spacingAndGlyphs">Dormitorio 1</text>
<text x="1760.00" y="332.44" class="t" font-size="18.9" text-anchor="middle" textLength="71.50" lengthAdjust="spacingAndGlyphs">17.13 m²</text>
<line x1="1354.50" y1="344.81" x2="1816.30" y2="344.81" stroke="#8f8f8f" stroke-width="1.3" />
<text x="1359.50" y="370.11" class="t" font-size="22.6" text-anchor="start" textLength="80.50" lengthAdjust="spacingAndGlyphs">Vivienda</text>
<text x="1472.50" y="366.11" class="t" font-size="18.9" text-anchor="start" textLength="65.50" lengthAdjust="spacingAndGlyphs">Vestidor</text>
<text x="1760.00" y="366.11" class="t" font-size="18.9" text-anchor="middle" textLength="61.50" lengthAdjust="spacingAndGlyphs">7.55 m²</text>
<line x1="1354.50" y1="378.48" x2="1816.30" y2="378.48" stroke="#8f8f8f" stroke-width="1.3" />
<text x="1359.50" y="403.78" class="t" font-size="22.6" text-anchor="start" textLength="80.50" lengthAdjust="spacingAndGlyphs">Vivienda</text>
<text x="1472.50" y="399.78" class="t" font-size="18.9" text-anchor="start" textLength="52.50" lengthAdjust="spacingAndGlyphs">Baño 1</text>
<text x="1760.00" y="399.78" class="t" font-size="18.9" text-anchor="middle" textLength="61.50" lengthAdjust="spacingAndGlyphs">6.38 m²</text>
<line x1="1354.50" y1="412.14" x2="1816.30" y2="412.14" stroke="#8f8f8f" stroke-width="1.3" />
<text x="1359.50" y="437.44" class="t" font-size="22.6" text-anchor="start" textLength="80.50" lengthAdjust="spacingAndGlyphs">Vivienda</text>
<text x="1472.50" y="433.44" class="t" font-size="18.9" text-anchor="start" textLength="54.00" lengthAdjust="spacingAndGlyphs">Baño 2</text>
<text x="1760.00" y="433.44" class="t" font-size="18.9" text-anchor="middle" textLength="61.50" lengthAdjust="spacingAndGlyphs">5.51 m²</text>
<line x1="1354.50" y1="445.81" x2="1816.30" y2="445.81" stroke="#8f8f8f" stroke-width="1.3" />
<text x="1359.50" y="471.11" class="t" font-size="22.6" text-anchor="start" textLength="80.50" lengthAdjust="spacingAndGlyphs">Vivienda</text>
<text x="1472.50" y="467.11" class="t" font-size="18.9" text-anchor="start" textLength="57.50" lengthAdjust="spacingAndGlyphs">Galeria</text>
<text x="1760.00" y="467.11" class="t" font-size="18.9" text-anchor="middle" textLength="61.50" lengthAdjust="spacingAndGlyphs">3.04 m²</text>
<line x1="1354.50" y1="479.48" x2="1816.30" y2="479.48" stroke="#8f8f8f" stroke-width="1.3" />
<text x="1359.50" y="504.78" class="t" font-size="22.6" text-anchor="start" textLength="80.50" lengthAdjust="spacingAndGlyphs">Vivienda</text>
<text x="1472.50" y="500.78" class="t" font-size="18.9" text-anchor="start" textLength="36.50" lengthAdjust="spacingAndGlyphs">Aseo</text>
<text x="1760.00" y="500.78" class="t" font-size="18.9" text-anchor="middle" textLength="61.50" lengthAdjust="spacingAndGlyphs">2.28 m²</text>
<line x1="1354.50" y1="513.15" x2="1816.30" y2="513.15" stroke="#8f8f8f" stroke-width="1.3" />
<text x="1359.50" y="538.45" class="t" font-size="22.6" text-anchor="start" textLength="80.50" lengthAdjust="spacingAndGlyphs">Vivienda</text>
<text x="1472.50" y="534.45" class="t" font-size="18.9" text-anchor="start" textLength="53.00" lengthAdjust="spacingAndGlyphs">Pasillo</text>
<text x="1760.00" y="534.45" class="t" font-size="18.9" text-anchor="middle" textLength="61.50" lengthAdjust="spacingAndGlyphs">8.10 m²</text>
<line x1="1354.50" y1="546.82" x2="1816.30" y2="546.82" stroke="#8f8f8f" stroke-width="1.3" />
<text x="1359.50" y="572.12" class="t" font-size="22.6" text-anchor="start" textLength="80.50" lengthAdjust="spacingAndGlyphs">Vivienda</text>
<text x="1472.50" y="568.12" class="t" font-size="18.9" text-anchor="start" textLength="63.50" lengthAdjust="spacingAndGlyphs">Armario</text>
<text x="1760.00" y="568.12" class="t" font-size="18.9" text-anchor="middle" textLength="61.50" lengthAdjust="spacingAndGlyphs">0.90 m²</text>
<line x1="1354.50" y1="580.49" x2="1816.30" y2="580.49" stroke="#8f8f8f" stroke-width="1.3" />
<text x="1359.50" y="605.79" class="t" font-size="22.6" text-anchor="start" textLength="80.50" lengthAdjust="spacingAndGlyphs">Vivienda</text>
<text x="1472.50" y="601.79" class="t" font-size="18.9" text-anchor="start" textLength="73.00" lengthAdjust="spacingAndGlyphs">Recibidor</text>
<text x="1760.00" y="601.79" class="t" font-size="18.9" text-anchor="middle" textLength="61.50" lengthAdjust="spacingAndGlyphs">4.27 m²</text>
<line x1="1354.50" y1="614.16" x2="1816.30" y2="614.16" stroke="#8f8f8f" stroke-width="1.3" />
<text x="1359.50" y="639.46" class="t" font-size="22.6" text-anchor="start" textLength="80.50" lengthAdjust="spacingAndGlyphs">Vivienda</text>
<text x="1472.50" y="635.46" class="t" font-size="18.9" text-anchor="start" textLength="49.00" lengthAdjust="spacingAndGlyphs">Cocina</text>
<text x="1760.00" y="635.46" class="t" font-size="18.9" text-anchor="middle" textLength="71.50" lengthAdjust="spacingAndGlyphs">11.08 m²</text>
<line x1="1354.50" y1="647.83" x2="1816.30" y2="647.83" stroke="#8f8f8f" stroke-width="1.3" />
<text x="1359.50" y="673.12" class="t" font-size="22.6" text-anchor="start" textLength="80.50" lengthAdjust="spacingAndGlyphs">Vivienda</text>
<text x="1472.50" y="669.12" class="t" font-size="18.9" text-anchor="start" textLength="128.00" lengthAdjust="spacingAndGlyphs">Salon - Comedor</text>
<text x="1760.00" y="669.12" class="t" font-size="18.9" text-anchor="middle" textLength="71.50" lengthAdjust="spacingAndGlyphs">28.69 m²</text>
<line x1="1354.50" y1="681.49" x2="1816.30" y2="681.49" stroke="#8f8f8f" stroke-width="1.3" />
<text x="1359.50" y="706.79" class="t" font-size="22.6" text-anchor="start" textLength="80.50" lengthAdjust="spacingAndGlyphs">Vivienda</text>
<text x="1472.50" y="702.79" class="t" font-size="18.9" text-anchor="start" textLength="127.00" lengthAdjust="spacingAndGlyphs">Terraza cubierta</text>
<text x="1760.00" y="702.79" class="t" font-size="18.9" text-anchor="middle" textLength="71.50" lengthAdjust="spacingAndGlyphs">21.58 m²</text>
<line x1="1354.50" y1="715.16" x2="1816.30" y2="715.16" stroke="#8f8f8f" stroke-width="1.3" />
<text x="1359.50" y="740.46" class="t" font-size="22.6" text-anchor="start" textLength="80.50" lengthAdjust="spacingAndGlyphs">Vivienda</text>
<text x="1472.50" y="736.46" class="t" font-size="18.9" text-anchor="start" textLength="119.00" lengthAdjust="spacingAndGlyphs">Acceso cubierto</text>
<text x="1760.00" y="736.46" class="t" font-size="18.9" text-anchor="middle" textLength="61.50" lengthAdjust="spacingAndGlyphs">3.90 m²</text>
<line x1="1354.50" y1="748.83" x2="1816.30" y2="748.83" stroke="#8f8f8f" stroke-width="1.3" />
<text x="1359.50" y="774.13" class="t" font-size="22.6" text-anchor="start" textLength="80.50" lengthAdjust="spacingAndGlyphs">Vivienda</text>
<text x="1472.50" y="770.13" class="t" font-size="18.9" text-anchor="start" textLength="114.50" lengthAdjust="spacingAndGlyphs">Paseo cubierto</text>
<text x="1760.00" y="770.13" class="t" font-size="18.9" text-anchor="middle" textLength="61.50" lengthAdjust="spacingAndGlyphs">9.48 m²</text>
<text x="1359.50" y="808.00" class="t" font-size="22.6" text-anchor="start" textLength="80.50" lengthAdjust="spacingAndGlyphs">Vivienda</text>
<text x="1760.70" y="808.00" class="t" font-size="22" text-anchor="middle" textLength="96.00" lengthAdjust="spacingAndGlyphs">153.89 m²</text>
<text x="1359.50" y="842.00" class="t" font-size="22.6" text-anchor="start" textLength="148.50" lengthAdjust="spacingAndGlyphs">TOTAL SUP. UTIL</text>
<text x="1760.70" y="842.00" class="t" font-size="22" text-anchor="middle" textLength="96.00" lengthAdjust="spacingAndGlyphs">159.90 m²</text>
<rect x="1354.50" y="901.60" width="352.10" height="76.60" fill="none" stroke="#8f8f8f" stroke-width="1.3"/>
<line x1="1354.50" y1="949.80" x2="1706.60" y2="949.80" stroke="#8f8f8f" stroke-width="1.3" />
<line x1="1593.50" y1="949.80" x2="1593.50" y2="978.20" stroke="#8f8f8f" stroke-width="1.3" />
<text x="1530.50" y="933.60" class="t" font-size="22.4" text-anchor="middle" textLength="194.00" lengthAdjust="spacingAndGlyphs">Superficie Construida</text>
<text x="1358.30" y="970.40" class="t" font-size="19" text-anchor="start" textLength="63.00" lengthAdjust="spacingAndGlyphs">Nombre</text>
<text x="1649.50" y="970.40" class="t" font-size="19" text-anchor="middle" textLength="37.50" lengthAdjust="spacingAndGlyphs">Área</text>
<rect x="1354.50" y="1012.30" width="352.10" height="143.70" fill="none" stroke="#8f8f8f" stroke-width="1.3"/>
<line x1="1593.50" y1="1012.30" x2="1593.50" y2="1156.00" stroke="#8f8f8f" stroke-width="1.3" />
<text x="1358.30" y="1033.70" class="t" font-size="19.3" text-anchor="start" textLength="68.50" lengthAdjust="spacingAndGlyphs">Vivienda</text>
<text x="1649.50" y="1033.70" class="t" font-size="19.3" text-anchor="middle" textLength="83.00" lengthAdjust="spacingAndGlyphs">143.57 m²</text>
<line x1="1354.50" y1="1041.04" x2="1706.60" y2="1041.04" stroke="#8f8f8f" stroke-width="1.3" />
<text x="1358.30" y="1062.44" class="t" font-size="19.3" text-anchor="start" textLength="122.00" lengthAdjust="spacingAndGlyphs">Acceso Cubierto</text>
<text x="1649.50" y="1062.44" class="t" font-size="19.3" text-anchor="middle" textLength="62.00" lengthAdjust="spacingAndGlyphs">4.26 m²</text>
<line x1="1354.50" y1="1069.78" x2="1706.60" y2="1069.78" stroke="#8f8f8f" stroke-width="1.3" />
<text x="1358.30" y="1091.18" class="t" font-size="19.3" text-anchor="start" textLength="117.00" lengthAdjust="spacingAndGlyphs">Paseo Cubierto</text>
<text x="1649.50" y="1091.18" class="t" font-size="19.3" text-anchor="middle" textLength="62.00" lengthAdjust="spacingAndGlyphs">9.80 m²</text>
<line x1="1354.50" y1="1098.52" x2="1706.60" y2="1098.52" stroke="#8f8f8f" stroke-width="1.3" />
<text x="1358.30" y="1119.92" class="t" font-size="19.3" text-anchor="start" textLength="60.50" lengthAdjust="spacingAndGlyphs">Pergola</text>
<text x="1649.50" y="1119.92" class="t" font-size="19.3" text-anchor="middle" textLength="71.50" lengthAdjust="spacingAndGlyphs">22.52 m²</text>
<line x1="1354.50" y1="1127.26" x2="1706.60" y2="1127.26" stroke="#8f8f8f" stroke-width="1.3" />
<text x="1358.30" y="1148.66" class="t" font-size="19.3" text-anchor="start" textLength="64.50" lengthAdjust="spacingAndGlyphs">Trastero</text>
<text x="1649.50" y="1148.66" class="t" font-size="19.3" text-anchor="middle" textLength="62.00" lengthAdjust="spacingAndGlyphs">8.17 m²</text>
<text x="1358.30" y="1182.00" class="t" font-size="22.6" text-anchor="start" textLength="229.50" lengthAdjust="spacingAndGlyphs">TOTAL SUP. CONSTRUIDA</text>
<text x="1650.00" y="1182.00" class="t" font-size="22" text-anchor="middle" textLength="97.00" lengthAdjust="spacingAndGlyphs">188.32 m²</text>
<text x="1365.00" y="1238.40" class="t" font-size="22" text-anchor="start" textLength="307.50" lengthAdjust="spacingAndGlyphs">PAVIMENTO EXTERIOR 131.67 m²</text>
</svg></body></html>
